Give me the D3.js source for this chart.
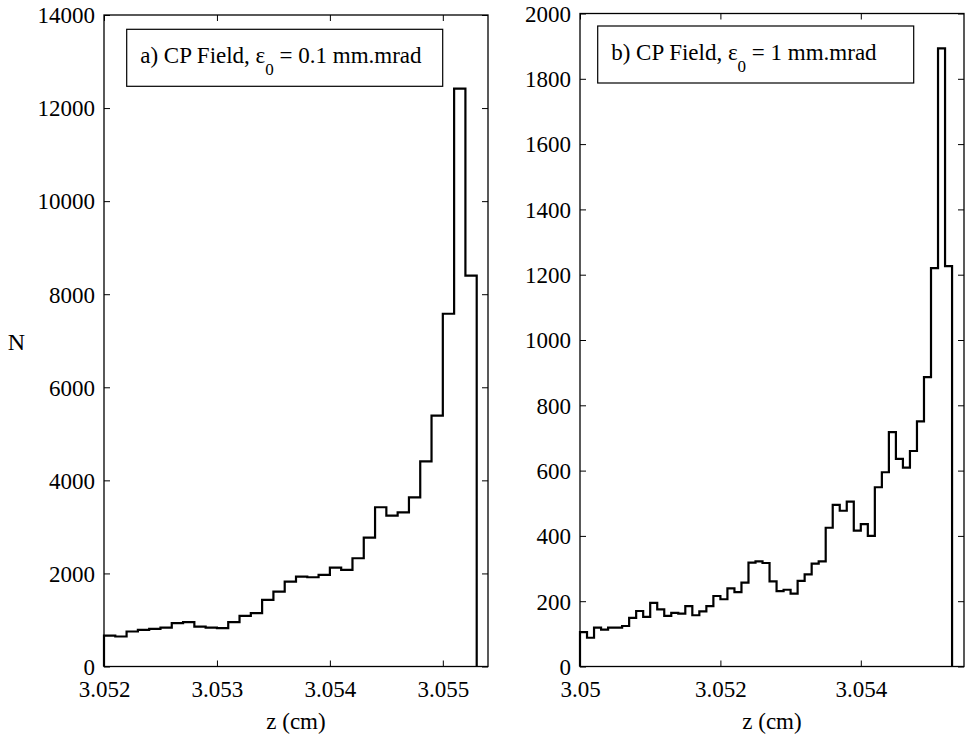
<!DOCTYPE html>
<html><head><meta charset="utf-8">
<script src="https://cdn.jsdelivr.net/npm/d3@7"></script>
<style>
body{margin:0;background:#fff;}
svg{display:block;}
svg text{font-family:"Liberation Serif","Tinos","Times New Roman",Times,"Nimbus Roman","DejaVu Serif",serif !important;fill:#000;}
</style></head>
<body><svg id="c" width="966" height="735"></svg>
<script>
// ---- data ----
const binWidth = 0.0001;
const leftBinStart = 3.052;
const leftCounts = [665, 645, 752, 787, 809, 837, 930, 952, 859, 837, 823, 952, 1088, 1145, 1432, 1611, 1825, 1933, 1918, 1968, 2126, 2076, 2326, 2770, 3422, 3243, 3314, 3636, 4410, 5390, 7580, 12420, 8400];
const rightBinStart = 3.05;
const rightCounts = [105, 88, 119, 113, 119, 119, 124, 149, 170, 152, 195, 175, 155, 164, 162, 185, 157, 169, 185, 216, 206, 239, 228, 257, 318, 322, 317, 261, 231, 235, 223, 262, 282, 315, 322, 425, 495, 477, 505, 416, 436, 400, 549, 595, 718, 636, 609, 660, 751, 886, 1220, 1893, 1226];
const leftXTicks = [3.052, 3.053, 3.054, 3.055];
const leftYTicks = [0, 2000, 4000, 6000, 8000, 10000, 12000, 14000];
const rightXTicks = [3.05, 3.052, 3.054];
const rightYTicks = [0, 200, 400, 600, 800, 1000, 1200, 1400, 1600, 1800, 2000];
const xLabel = "z (cm)";
const yLabel = "N";
const leftTitle = {pre: "a) CP Field, ε", sub: "0", post: " = 0.1 mm.mrad"};
const rightTitle = {pre: "b) CP Field, ε", sub: "0", post: " = 1 mm.mrad"};

const svg = d3.select("#c");
const FS = 23;
const FONT = '"Liberation Serif","Tinos","Times New Roman",Times,"Nimbus Roman","DejaVu Serif",serif';

function panel(cfg) {
  const x = d3.scaleLinear().domain(cfg.xDomain).range([cfg.x0, cfg.x1]);
  const y = d3.scaleLinear().domain(cfg.yDomain).range([cfg.y0, cfg.y1]);
  const g = svg.append("g");
  const fmt = d => String(+d.toFixed(4));

  // histogram stairs
  const pts = [[x(cfg.start), y(0)]];
  cfg.counts.forEach((c, i) => {
    const a = cfg.start + i * binWidth, b = cfg.start + (i + 1) * binWidth;
    pts.push([x(a), y(c)], [x(b), y(c)]);
  });
  pts.push([x(cfg.start + cfg.counts.length * binWidth), y(0)]);
  g.append("path").attr("d", d3.line()(pts)).attr("fill", "none")
    .attr("stroke", "#000").attr("stroke-width", 2.2).attr("stroke-linejoin", "miter");

  // axes (inward ticks)
  const ax = g.append("g").attr("transform", `translate(0,${cfg.y0})`)
    .call(d3.axisBottom(x).tickValues(cfg.xTicks).tickSize(-6).tickPadding(14).tickFormat(fmt));
  const axTop = g.append("g").attr("transform", `translate(0,${cfg.y1})`)
    .call(d3.axisTop(x).tickValues(cfg.xTicks).tickSize(-6).tickFormat(""));
  const ay = g.append("g").attr("transform", `translate(${cfg.x0},0)`)
    .call(d3.axisLeft(y).tickValues(cfg.yTicks).tickSize(-6).tickPadding(9).tickFormat(d3.format("d")));
  const ayR = g.append("g").attr("transform", `translate(${cfg.x1},0)`)
    .call(d3.axisRight(y).tickValues(cfg.yTicks).tickSize(-6).tickFormat(""));
  [ax, axTop, ay, ayR].forEach(a => {
    a.attr("font-family", FONT);
    a.select(".domain").remove();
    a.selectAll("line").attr("stroke", "#000").attr("stroke-width", 1);
    a.selectAll("text").attr("font-size", FS).attr("font-family", FONT).attr("fill", "#000");
  });
  ax.selectAll("text").attr("dy", null).attr("y", 30);
  ay.selectAll("text").attr("dy", "0.34em");

  // box
  g.append("rect").attr("x", cfg.x0).attr("y", cfg.y1)
    .attr("width", cfg.x1 - cfg.x0).attr("height", cfg.y0 - cfg.y1)
    .attr("fill", "none").attr("stroke", "#000").attr("stroke-width", 1.3);

  // x label
  g.append("text").attr("x", (cfg.x0 + cfg.x1) / 2).attr("y", 729)
    .attr("text-anchor", "middle").attr("font-size", FS).attr("font-family", FONT).text(xLabel);

  // title box
  g.append("rect").attr("x", cfg.bx).attr("y", cfg.by).attr("width", 316).attr("height", 57)
    .attr("fill", "#fff").attr("stroke", "#000").attr("stroke-width", 1.2);
  const t = g.append("text").attr("x", cfg.bx + 13.5).attr("y", cfg.by + 34)
    .attr("font-size", FS).attr("font-family", FONT);
  t.append("tspan").text(cfg.title.pre);
  t.append("tspan").attr("font-size", 17).attr("dy", 12).text(cfg.title.sub);
  t.append("tspan").attr("dy", -12).text(cfg.title.post);
}

panel({x0: 104, x1: 488, y0: 666.5, y1: 15, xDomain: [3.052, 3.0554], yDomain: [0, 14000],
  start: leftBinStart, counts: leftCounts, xTicks: leftXTicks, yTicks: leftYTicks,
  bx: 126.7, by: 29.3, title: leftTitle});
panel({x0: 580, x1: 964, y0: 666.5, y1: 13.5, xDomain: [3.05, 3.05547], yDomain: [0, 2000],
  start: rightBinStart, counts: rightCounts, xTicks: rightXTicks, yTicks: rightYTicks,
  bx: 597.7, by: 26, title: rightTitle});

svg.append("text").attr("x", 16.5).attr("y", 350).attr("text-anchor", "middle")
  .attr("font-size", 24).attr("font-family", FONT).text(yLabel);
</script>
</body></html>
